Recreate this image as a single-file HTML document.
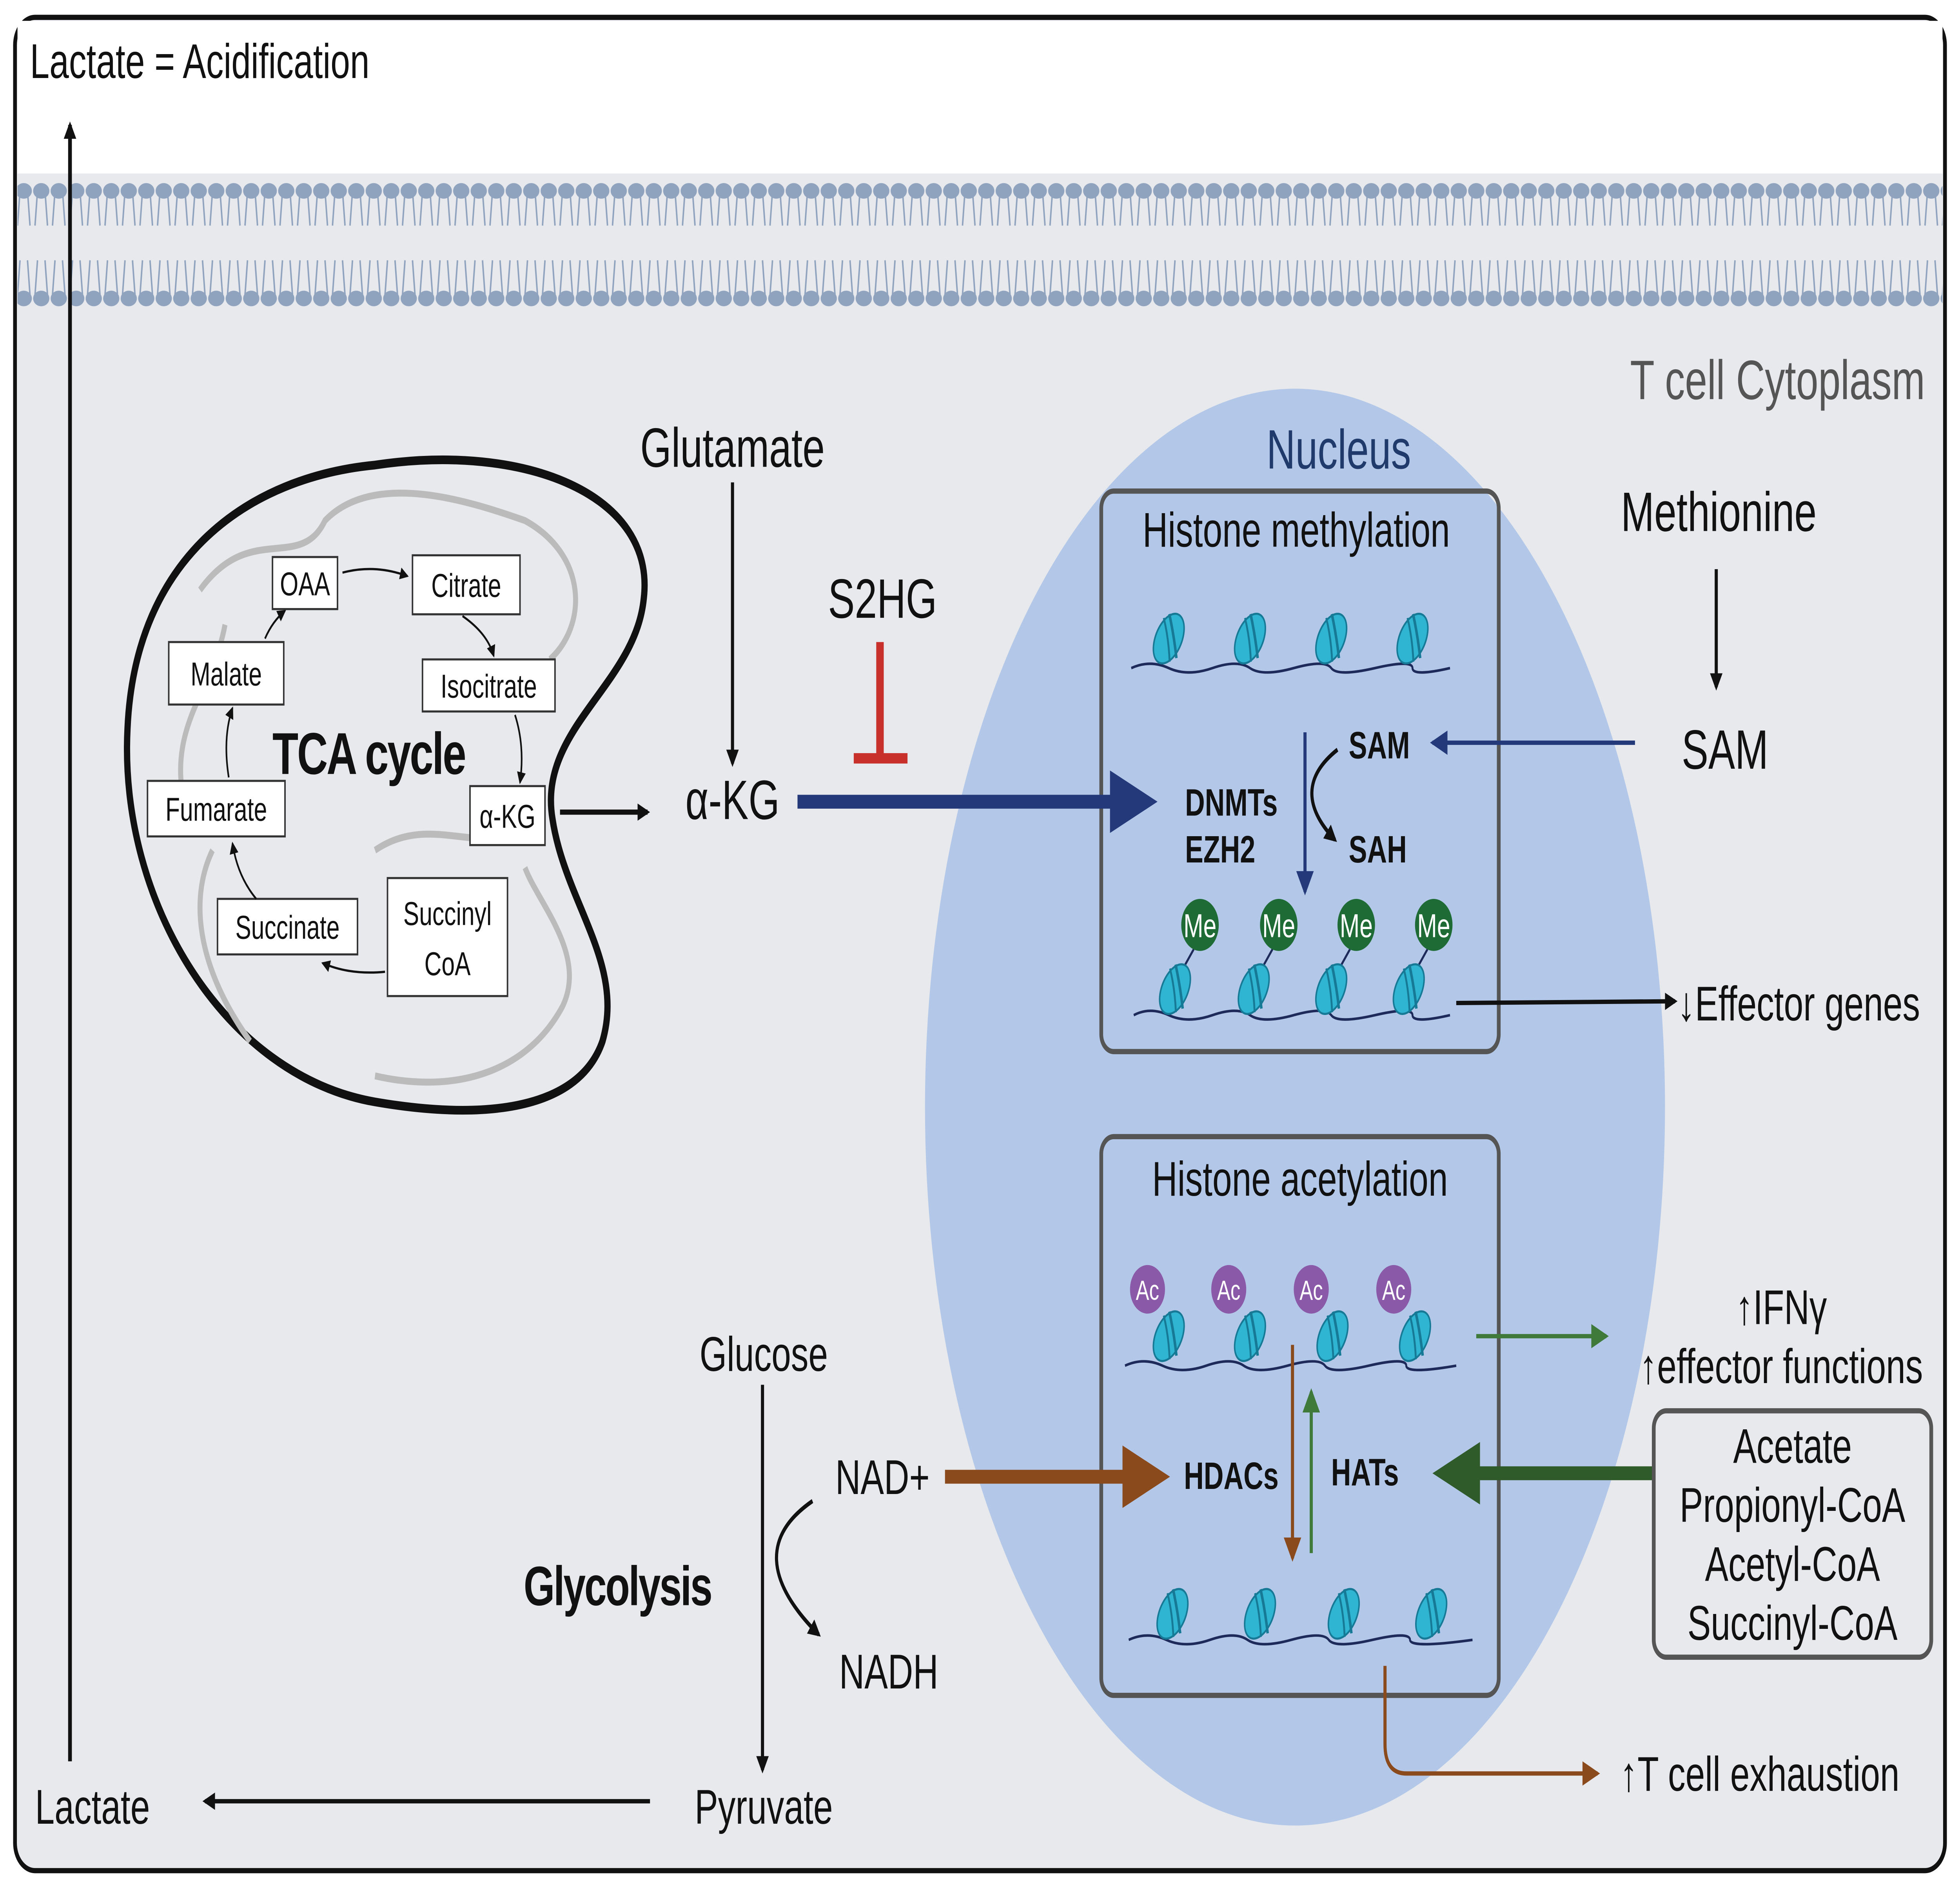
<!DOCTYPE html>
<html><head><meta charset="utf-8"><style>
html,body{margin:0;padding:0;background:#fff;overflow:hidden;width:100%;height:100%;}
svg{display:block;width:100vw;height:100vh;}
text{font-family:"Liberation Sans",sans-serif;}
</style></head><body>
<svg viewBox="0 0 1568 1088" preserveAspectRatio="none" xmlns="http://www.w3.org/2000/svg">
<defs>
<marker id="ab" markerWidth="10" markerHeight="10" refX="8" refY="5" orient="auto" markerUnits="userSpaceOnUse"><path d="M0,0 L10,5 L0,10 Z" fill="#111"/></marker>
<marker id="abs" markerWidth="7" markerHeight="7" refX="6" refY="3.5" orient="auto" markerUnits="userSpaceOnUse"><path d="M0,0 L7,3.5 L0,7 Z" fill="#111"/></marker>
<marker id="an" markerWidth="14" markerHeight="14" refX="12" refY="7" orient="auto" markerUnits="userSpaceOnUse"><path d="M0,0 L14,7 L0,14 Z" fill="#24397a"/></marker>
<marker id="ag" markerWidth="14" markerHeight="14" refX="12" refY="7" orient="auto" markerUnits="userSpaceOnUse"><path d="M0,0 L14,7 L0,14 Z" fill="#3f7a3a"/></marker>
<marker id="abr" markerWidth="14" markerHeight="14" refX="12" refY="7" orient="auto" markerUnits="userSpaceOnUse"><path d="M0,0 L14,7 L0,14 Z" fill="#8b4a1c"/></marker>
<pattern id="mem" width="14" height="80" patternUnits="userSpaceOnUse" x="12" y="100">
<path d="M4,10 L2,30 M10,10 L12,30 M4,50 L2,70 M10,50 L12,70" stroke="#8fa3bf" stroke-width="1.2" fill="none"/>
<ellipse cx="7" cy="10" rx="6.5" ry="4.5" fill="#8fa3bf"/>
<ellipse cx="7" cy="72" rx="6.5" ry="4.5" fill="#8fa3bf"/>
</pattern>
<g id="nuc">
<ellipse cx="0" cy="0" rx="10" ry="16" transform="rotate(35)" fill="#2fb4d1" stroke="#167a96" stroke-width="1.2"/>
<path d="M-2,-14 Q4,-2 8,10" stroke="#167a96" stroke-width="2" fill="none" transform="rotate(10)"/>
<path d="M-6,-11 Q0,0 3,13" stroke="#167a96" stroke-width="1.5" fill="none" transform="rotate(10)"/>
</g>
</defs>
<rect x="12" y="10" width="1544" height="1068" rx="16" fill="#e8e9ec" stroke="#111" stroke-width="3"/>
<path d="M14,12 H1554 V100 H14 Z" fill="#fff"/>
<rect x="14" y="100" width="1540" height="80" fill="url(#mem)"/>
<text x="24" y="45" font-size="28" fill="#111">Lactate = Acidification</text>
<line x1="56" y1="1015" x2="56" y2="72" stroke="#111" stroke-width="3" marker-end="url(#ab)"/>
<text x="1540" y="230" font-size="32" fill="#555" text-anchor="end">T cell Cytoplasm</text>
<ellipse cx="1036" cy="638" rx="296" ry="414" fill="#b3c8e8"/>
<text x="1071" y="270" font-size="32" fill="#1f3a6b" text-anchor="middle">Nucleus</text>
<rect x="881" y="283" width="318" height="323" rx="10" fill="none" stroke="#555" stroke-width="3"/>
<rect x="881" y="655" width="318" height="322" rx="10" fill="none" stroke="#555" stroke-width="3"/>
<text x="1037" y="315" font-size="28" fill="#111" text-anchor="middle">Histone methylation</text>
<text x="1040" y="689" font-size="28" fill="#111" text-anchor="middle">Histone acetylation</text>
<path d="M300,268 C420,255 525,285 515,345 C508,395 430,420 442,472 C452,520 500,555 482,600 C462,642 380,645 300,635 C180,620 95,520 102,420 C108,320 200,275 300,268 Z" fill="#e8e9ec" stroke="#111" stroke-width="5"/>
<path d="M160,340 C200,300 240,330 260,300 C300,270 380,290 420,300 C470,320 470,360 440,380 M150,470 C130,420 170,400 180,360 M200,600 C160,560 150,520 170,490 M300,620 C360,630 420,620 450,580 C470,550 430,520 420,500 M300,490 C340,470 380,490 400,480" stroke="#bbb" stroke-width="4" fill="none"/>
<g font-size="19" fill="#111">
<rect x="218" y="321" width="52" height="30" fill="#fff" stroke="#333" stroke-width="1.2"/><text x="244" y="343" text-anchor="middle">OAA</text>
<rect x="330" y="320" width="86" height="34" fill="#fff" stroke="#333" stroke-width="1.2"/><text x="373" y="344" text-anchor="middle">Citrate</text>
<rect x="338" y="380" width="106" height="30" fill="#fff" stroke="#333" stroke-width="1.2"/><text x="391" y="402" text-anchor="middle">Isocitrate</text>
<rect x="376" y="453" width="60" height="34" fill="#fff" stroke="#333" stroke-width="1.2"/><text x="406" y="477" text-anchor="middle">α-KG</text>
<rect x="310" y="506" width="96" height="68" fill="#fff" stroke="#333" stroke-width="1.2"/><text x="358" y="533" text-anchor="middle">Succinyl</text><text x="358" y="562" text-anchor="middle">CoA</text>
<rect x="174" y="518" width="112" height="32" fill="#fff" stroke="#333" stroke-width="1.2"/><text x="230" y="541" text-anchor="middle">Succinate</text>
<rect x="118" y="450" width="110" height="32" fill="#fff" stroke="#333" stroke-width="1.2"/><text x="173" y="473" text-anchor="middle">Fumarate</text>
<rect x="135" y="370" width="92" height="36" fill="#fff" stroke="#333" stroke-width="1.2"/><text x="181" y="395" text-anchor="middle">Malate</text>
</g>
<g stroke="#111" stroke-width="1.3" fill="none" marker-end="url(#abs)">
<path d="M274,330 Q300,325 326,332"/>
<path d="M370,355 Q390,365 395,378"/>
<path d="M412,412 Q420,430 416,451"/>
<path d="M308,560 Q280,562 258,555"/>
<path d="M205,518 Q190,505 186,486"/>
<path d="M183,448 Q178,425 186,408"/>
<path d="M212,368 Q218,358 228,352"/>
</g>
<text x="295" y="446" font-size="34" font-weight="bold" fill="#111" text-anchor="middle" letter-spacing="-1">TCA cycle</text>
<line x1="448" y1="468" x2="518" y2="468" stroke="#111" stroke-width="3" marker-end="url(#ab)"/>
<text x="586" y="269" font-size="32" fill="#111" text-anchor="middle">Glutamate</text>
<line x1="586" y1="278" x2="586" y2="440" stroke="#111" stroke-width="2.5" marker-end="url(#ab)"/>
<text x="586" y="472" font-size="32" fill="#111" text-anchor="middle">α-KG</text>
<line x1="638" y1="462" x2="890" y2="462" stroke="#24397a" stroke-width="8"/>
<path d="M888,444 L926,462 L888,480 Z" fill="#24397a"/>
<text x="706" y="356" font-size="32" fill="#111" text-anchor="middle">S2HG</text>
<line x1="704" y1="370" x2="704" y2="437" stroke="#c8302c" stroke-width="6"/>
<line x1="683" y1="437" x2="726" y2="437" stroke="#c8302c" stroke-width="6"/>
<text x="1375" y="306" font-size="32" fill="#111" text-anchor="middle">Methionine</text>
<line x1="1373" y1="328" x2="1373" y2="396" stroke="#111" stroke-width="2.5" marker-end="url(#ab)"/>
<text x="1380" y="443" font-size="32" fill="#111" text-anchor="middle">SAM</text>
<line x1="1308" y1="428" x2="1146" y2="428" stroke="#24397a" stroke-width="2.5" marker-end="url(#an)"/>
<path d="M905,385 Q920,380 935,385 T970,385 T1000,385 T1035,385 T1065,385 T1100,385 T1130,385 T1160,385" stroke="#1e2a5a" stroke-width="1.5" fill="none"/>
<use href="#nuc" x="935" y="368"/><use href="#nuc" x="1000" y="368"/><use href="#nuc" x="1065" y="368"/><use href="#nuc" x="1130" y="368"/>
<text x="1079" y="437" font-size="22" font-weight="bold" fill="#111">SAM</text>
<text x="948" y="470" font-size="22" font-weight="bold" fill="#111">DNMTs</text>
<text x="948" y="497" font-size="22" font-weight="bold" fill="#111">EZH2</text>
<text x="1079" y="497" font-size="22" font-weight="bold" fill="#111">SAH</text>
<line x1="1044" y1="422" x2="1044" y2="514" stroke="#24397a" stroke-width="2.5" marker-end="url(#an)"/>
<path d="M1070,432 Q1030,455 1068,484" stroke="#111" stroke-width="2.5" fill="none" marker-end="url(#ab)"/>
<path d="M907,585 Q920,580 935,585 T970,585 T1000,585 T1035,585 T1065,585 T1100,585 T1130,585 T1160,585" stroke="#1e2a5a" stroke-width="1.5" fill="none"/>
<g stroke="#1e2a5a" stroke-width="1.5"><line x1="955" y1="547" x2="945" y2="560"/><line x1="1018" y1="547" x2="1008" y2="560"/><line x1="1080" y1="547" x2="1070" y2="560"/><line x1="1142" y1="547" x2="1132" y2="560"/></g>
<use href="#nuc" x="940" y="570"/><use href="#nuc" x="1003" y="570"/><use href="#nuc" x="1065" y="570"/><use href="#nuc" x="1127" y="570"/>
<g font-size="19" fill="#fff" text-anchor="middle">
<circle cx="960" cy="533" r="15" fill="#1f6b35"/><text x="960" y="540">Me</text>
<circle cx="1023" cy="533" r="15" fill="#1f6b35"/><text x="1023" y="540">Me</text>
<circle cx="1085" cy="533" r="15" fill="#1f6b35"/><text x="1085" y="540">Me</text>
<circle cx="1147" cy="533" r="15" fill="#1f6b35"/><text x="1147" y="540">Me</text>
</g>
<line x1="1165" y1="578" x2="1340" y2="577" stroke="#111" stroke-width="2.5" marker-end="url(#ab)"/>
<text x="1342" y="588" font-size="28" fill="#111">↓Effector genes</text>
<path d="M900,787 Q915,782 930,787 T965,787 T995,787 T1030,787 T1060,787 T1095,787 T1125,787 T1165,787" stroke="#1e2a5a" stroke-width="1.5" fill="none"/>
<use href="#nuc" x="935" y="770"/><use href="#nuc" x="1000" y="770"/><use href="#nuc" x="1066" y="770"/><use href="#nuc" x="1132" y="770"/>
<g font-size="16" fill="#fff" text-anchor="middle">
<circle cx="918" cy="743" r="14" fill="#8a5aa8"/><text x="918" y="749">Ac</text>
<circle cx="983" cy="743" r="14" fill="#8a5aa8"/><text x="983" y="749">Ac</text>
<circle cx="1049" cy="743" r="14" fill="#8a5aa8"/><text x="1049" y="749">Ac</text>
<circle cx="1115" cy="743" r="14" fill="#8a5aa8"/><text x="1115" y="749">Ac</text>
</g>
<line x1="1181" y1="770" x2="1285" y2="770" stroke="#3f7a3a" stroke-width="2.5" marker-end="url(#ag)"/>
<text x="1425" y="763" font-size="28" fill="#111" text-anchor="middle">↑IFNγ</text>
<text x="1425" y="797" font-size="28" fill="#111" text-anchor="middle">↑effector functions</text>
<text x="985" y="858" font-size="22" font-weight="bold" fill="#111" text-anchor="middle">HDACs</text>
<text x="1092" y="856" font-size="22" font-weight="bold" fill="#111" text-anchor="middle">HATs</text>
<line x1="1034" y1="775" x2="1034" y2="898" stroke="#8b4a1c" stroke-width="2.5" marker-end="url(#abr)"/>
<line x1="1049" y1="895" x2="1049" y2="802" stroke="#3f7a3a" stroke-width="2.5" marker-end="url(#ag)"/>
<path d="M903,945 Q918,940 933,945 T968,945 T998,945 T1033,945 T1063,945 T1098,945 T1128,945 T1178,945" stroke="#1e2a5a" stroke-width="1.5" fill="none"/>
<use href="#nuc" x="938" y="930"/><use href="#nuc" x="1008" y="930"/><use href="#nuc" x="1075" y="930"/><use href="#nuc" x="1145" y="930"/>
<text x="706" y="861" font-size="28" fill="#111" text-anchor="middle">NAD+</text>
<line x1="756" y1="851" x2="900" y2="851" stroke="#8b4a1c" stroke-width="8"/>
<path d="M898,833 L936,851 L898,869 Z" fill="#8b4a1c"/>
<line x1="1322" y1="849" x2="1180" y2="849" stroke="#2f5a2a" stroke-width="8"/>
<path d="M1184,831 L1146,849 L1184,867 Z" fill="#2f5a2a"/>
<rect x="1323" y="813" width="222" height="142" rx="10" fill="none" stroke="#555" stroke-width="3"/>
<g font-size="28" fill="#111" text-anchor="middle">
<text x="1434" y="843">Acetate</text><text x="1434" y="877">Propionyl-CoA</text><text x="1434" y="911">Acetyl-CoA</text><text x="1434" y="945">Succinyl-CoA</text>
</g>
<text x="611" y="790" font-size="28" fill="#111" text-anchor="middle">Glucose</text>
<line x1="610" y1="798" x2="610" y2="1020" stroke="#111" stroke-width="2.5" marker-end="url(#ab)"/>
<text x="611" y="1051" font-size="28" fill="#111" text-anchor="middle">Pyruvate</text>
<path d="M650,865 Q590,895 655,942" stroke="#111" stroke-width="2.5" fill="none" marker-end="url(#ab)"/>
<text x="711" y="973" font-size="28" fill="#111" text-anchor="middle">NADH</text>
<text x="494" y="925" font-size="32" font-weight="bold" fill="#111" text-anchor="middle" letter-spacing="-1">Glycolysis</text>
<line x1="520" y1="1038" x2="164" y2="1038" stroke="#111" stroke-width="2.5" marker-end="url(#ab)"/>
<text x="74" y="1051" font-size="28" fill="#111" text-anchor="middle">Lactate</text>
<path d="M1108,960 L1108,1005 Q1108,1022 1125,1022 L1278,1022" stroke="#8b4a1c" stroke-width="2.5" fill="none" marker-end="url(#abr)"/>
<text x="1296" y="1032" font-size="28" fill="#111">↑T cell exhaustion</text>
</svg>
</body></html>
